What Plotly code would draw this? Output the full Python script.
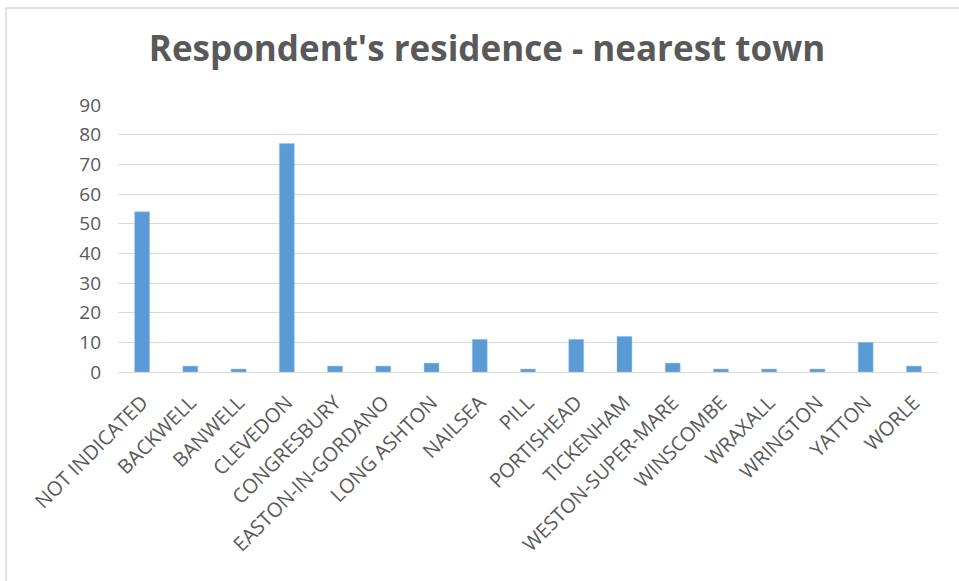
import plotly.graph_objects as go

towns = [
    "NOT INDICATED", "BACKWELL", "BANWELL", "CLEVEDON", "CONGRESBURY",
    "EASTON-IN-GORDANO", "LONG ASHTON", "NAILSEA", "PILL", "PORTISHEAD",
    "TICKENHAM", "WESTON-SUPER-MARE", "WINSCOMBE", "WRAXALL", "WRINGTON",
    "YATTON", "WORLE",
]
counts = [54, 2, 1, 77, 2, 2, 3, 11, 1, 11, 12, 3, 1, 1, 1, 10, 2]
y_ticks = [0, 10, 20, 30, 40, 50, 60, 70, 80, 90]

W, H = 959, 581
L, R, T, B = 118, 21, 105, 209
pw, ph = W - L - R, H - T - B


def px(x):
    return (x - L) / pw


def py(y):
    return (H - B - y) / ph


fig = go.Figure(
    go.Bar(
        x=towns,
        y=counts,
        marker=dict(color="#5B9BD5", line=dict(color="#9DC3E6", width=0.5)),
    )
)

fig.update_layout(
    width=W,
    height=H,
    margin=dict(l=L, r=R, t=T, b=B),
    paper_bgcolor="white",
    plot_bgcolor="white",
    bargap=0.69,
    showlegend=False,
    font=dict(family="Open Sans", color="#595959", size=16),
    title=dict(
        text="<b>Respondent's residence - nearest town</b>",
        xref="container",
        yref="container",
        x=487 / W,
        xanchor="center",
        y=1 - 49 / H,
        yanchor="middle",
        font=dict(family="Open Sans", size=35, color="#595959"),
    ),
    xaxis=dict(
        tickangle=-45,
        showgrid=False,
        showline=True,
        linecolor="#D9D9D9",
        linewidth=1,
        ticks="",
        ticklabelstandoff=10,
        tickfont=dict(size=20, color="#595959"),
    ),
    yaxis=dict(
        range=[0, 90],
        tickvals=y_ticks,
        showgrid=True,
        gridcolor="#D9D9D9",
        gridwidth=1,
        zeroline=False,
        showline=False,
        ticks="",
        ticklabelstandoff=16,
        tickfont=dict(size=19, color="#595959"),
    ),
    shapes=[
        dict(
            type="path",
            xref="paper",
            yref="paper",
            path=f"M {px(W + 5)},{py(8)} L {px(6)},{py(8)} L {px(6)},{py(H + 5)}",
            line=dict(color="#D9D9D9", width=1.5),
        )
    ],
)

fig.write_html("out.html")
